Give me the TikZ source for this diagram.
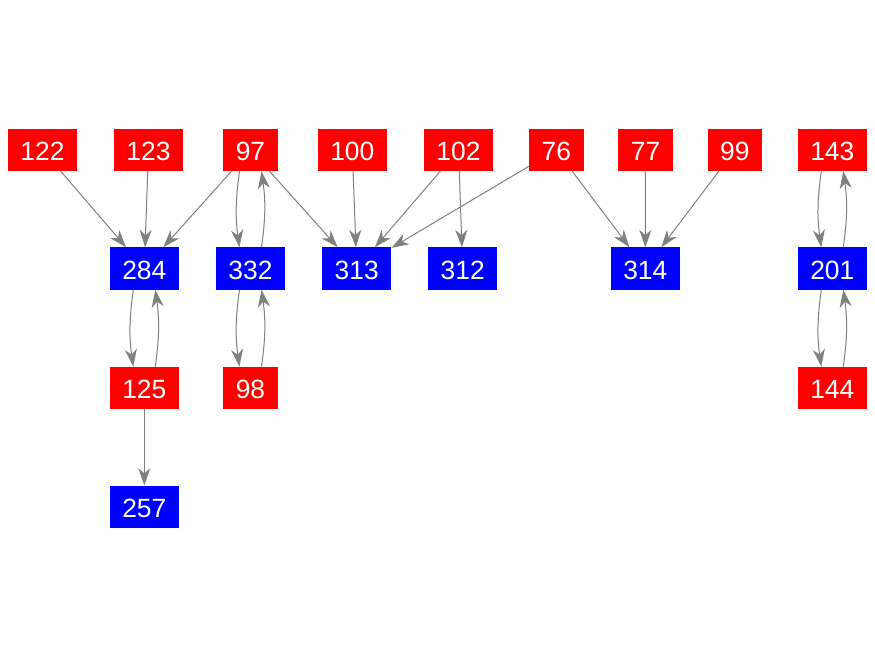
\documentclass[tikz,border=0pt]{standalone}
\usepackage{fontspec}
\setmainfont{Liberation Sans}
\usetikzlibrary{arrows.meta}
\tikzset{
% Two box styles for the graph: red sources and blue targets
red node/.style={rectangle,fill=red,text=white,inner xsep=9.4pt,
  minimum height=31.5pt,text height=16pt,text depth=0pt,
  font=\fontsize{19.8}{21}\selectfont},
blue node/.style={red node,fill=blue},
link/.style={draw=gray,line width=0.75pt,-{Stealth[length=13pt,width=9pt,inset=4pt]}}
}

\begin{document}
\begin{tikzpicture}[x=0.75pt,y=-0.75pt]
\useasboundingbox (0,0) rectangle (875,656);
% top row
\node[red node] (n122) at (42.5,150) {122};
\node[red node] (n123) at (148.5,150) {123};
\node[red node] (n97) at (250.5,150) {97};
\node[red node] (n100) at (352.3,150) {100};
\node[red node] (n102) at (458.5,150) {102};
\node[red node] (n76) at (556.3,150) {76};
\node[red node] (n77) at (645.5,150) {77};
\node[red node] (n99) at (734.8,150) {99};
\node[red node] (n143) at (832.3,150) {143};
% second row
\node[blue node] (n284) at (144.3,268.5) {284};
\node[blue node] (n332) at (250.5,268.5) {332};
\node[blue node] (n313) at (356.7,268.5) {313};
\node[blue node] (n312) at (462.7,268.5) {312};
\node[blue node] (n314) at (645.3,268.5) {314};
\node[blue node] (n201) at (832.3,268.5) {201};
% third and fourth rows
\node[red node] (n125) at (144.3,387.8) {125};
\node[red node] (n98) at (250.5,387.8) {98};
\node[red node] (n144) at (832.3,387.8) {144};
\node[blue node] (n257) at (144.3,506.7) {257};

\draw[link] (n122) -- (n284);
\draw[link] (n123) -- (n284);
\draw[link] (n97) -- (n284);
\draw[link] (n97) -- (n313);
\draw[link] (n100) -- (n313);
\draw[link] (n102) -- (n313);
\draw[link] (n76) -- (n313);
\draw[link] (n102) -- (n312);
\draw[link] (n76) -- (n314);
\draw[link] (n77) -- (n314);
\draw[link] (n99) -- (n314);
\draw[link] (n125) -- (n257);
% pairs of edges both ways
\foreach \up/\down in {n97/n332,n332/n98,n284/n125,n143/n201,n201/n144}{
  \draw[link] ([xshift=-8.25pt]\up.south) to[bend right=8] ([xshift=-8.25pt]\down.north);
  \draw[link] ([xshift=8.25pt]\down.north) to[bend right=8] ([xshift=8.25pt]\up.south);
}
\end{tikzpicture}
\end{document}
